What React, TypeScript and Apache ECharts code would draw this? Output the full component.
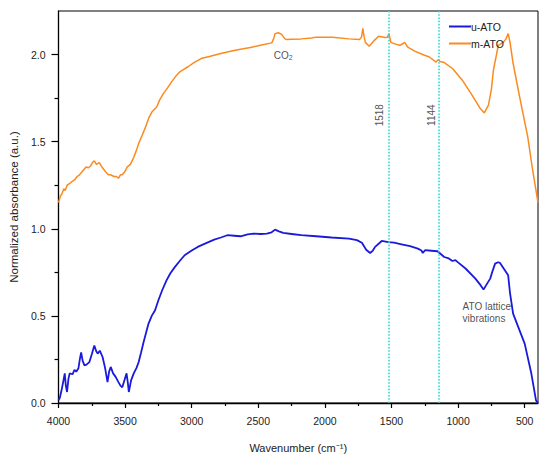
import React, { useEffect, useRef } from "react";
import * as echarts from "echarts";

const xTickValues = [4000, 3500, 3000, 2500, 2000, 1500, 1000, 500];
const xMinorTicks = [3750, 3250, 2750, 2250, 1750, 1250, 750];
const yTickValues = [0, 0.5, 1.0, 1.5, 2.0];
const yMinorTicks = [0.25, 0.75, 1.25, 1.75];

const uATO: [number, number][] = [
  [4000, 0.015], [3990, 0.03], [3978, 0.07], [3965, 0.12], [3953, 0.17], [3945, 0.1], [3936, 0.063],
  [3925, 0.14], [3916, 0.17], [3895, 0.165], [3880, 0.19], [3867, 0.18], [3850, 0.2], [3840, 0.25],
  [3830, 0.29], [3818, 0.24], [3805, 0.216], [3790, 0.22], [3768, 0.235], [3750, 0.28], [3731, 0.33],
  [3718, 0.3], [3706, 0.283], [3690, 0.3], [3669, 0.264], [3650, 0.2], [3632, 0.12], [3620, 0.18],
  [3608, 0.207], [3590, 0.17], [3571, 0.15], [3550, 0.12], [3535, 0.1], [3521, 0.09], [3505, 0.13],
  [3489, 0.17], [3480, 0.12], [3472, 0.063], [3455, 0.13], [3435, 0.17], [3415, 0.2], [3398, 0.235],
  [3380, 0.29], [3361, 0.35], [3340, 0.41], [3324, 0.456], [3300, 0.5], [3275, 0.532], [3250, 0.59],
  [3220, 0.65], [3189, 0.704], [3160, 0.745], [3127, 0.78], [3090, 0.815], [3053, 0.848], [3000, 0.875],
  [2955, 0.896], [2900, 0.915], [2831, 0.938], [2780, 0.95], [2733, 0.963], [2680, 0.96], [2633, 0.957],
  [2580, 0.968], [2535, 0.972], [2480, 0.97], [2436, 0.972], [2400, 0.98], [2374, 0.995], [2345, 0.985],
  [2313, 0.976], [2250, 0.97], [2177, 0.963], [2066, 0.957], [1950, 0.95], [1819, 0.944], [1760, 0.935],
  [1722, 0.92], [1690, 0.88], [1660, 0.861], [1640, 0.875], [1623, 0.896], [1573, 0.93], [1524, 0.924],
  [1480, 0.92], [1425, 0.911], [1360, 0.9], [1302, 0.886], [1275, 0.875], [1265, 0.861], [1248, 0.877],
  [1200, 0.874], [1154, 0.871], [1130, 0.855], [1104, 0.838], [1070, 0.83], [1042, 0.815], [1020, 0.82],
  [1005, 0.81], [944, 0.772], [870, 0.714], [830, 0.675], [809, 0.651], [790, 0.675], [759, 0.714],
  [740, 0.76], [722, 0.8], [700, 0.808], [685, 0.804], [660, 0.775], [624, 0.733], [610, 0.63],
  [587, 0.513], [545, 0.43], [500, 0.341], [450, 0.169], [415, 0.015], [400, 0.0],
];

const mATO: [number, number][] = [
  [4000, 1.15], [3985, 1.19], [3975, 1.2], [3960, 1.23], [3950, 1.22], [3935, 1.25], [3916, 1.26],
  [3900, 1.27], [3880, 1.28], [3860, 1.3], [3842, 1.31], [3820, 1.33], [3793, 1.355], [3775, 1.35],
  [3760, 1.36], [3745, 1.38], [3731, 1.39], [3715, 1.37], [3694, 1.38], [3670, 1.35], [3645, 1.326],
  [3625, 1.31], [3610, 1.31], [3583, 1.3], [3565, 1.3], [3550, 1.29], [3535, 1.31], [3521, 1.31],
  [3500, 1.33], [3484, 1.355], [3460, 1.37], [3435, 1.41], [3415, 1.45], [3398, 1.49], [3370, 1.54],
  [3346, 1.585], [3320, 1.64], [3299, 1.67], [3262, 1.7], [3240, 1.74], [3213, 1.776], [3180, 1.81],
  [3151, 1.843], [3120, 1.875], [3090, 1.9], [3060, 1.915], [3028, 1.93], [2980, 1.955], [2929, 1.977],
  [2860, 1.99], [2781, 2.006], [2700, 2.02], [2633, 2.03], [2560, 2.04], [2485, 2.053], [2399, 2.067],
  [2385, 2.09], [2374, 2.12], [2350, 2.125], [2325, 2.116], [2300, 2.09], [2288, 2.086], [2250, 2.088],
  [2177, 2.09], [2100, 2.095], [2066, 2.1], [1943, 2.1], [1819, 2.09], [1740, 2.086], [1725, 2.1],
  [1715, 2.15], [1705, 2.1], [1696, 2.07], [1667, 2.048], [1630, 2.08], [1597, 2.105], [1548, 2.098],
  [1530, 2.1], [1519, 2.12], [1505, 2.07], [1470, 2.06], [1437, 2.053], [1410, 2.065], [1400, 2.07],
  [1380, 2.044], [1326, 2.02], [1252, 1.996], [1215, 1.986], [1166, 1.957], [1149, 1.97], [1135, 1.96],
  [1104, 1.954], [1042, 1.92], [968, 1.853], [894, 1.766], [833, 1.69], [803, 1.665], [772, 1.71],
  [750, 1.8], [735, 1.91], [698, 2.053], [661, 2.07], [640, 2.09], [624, 2.12], [610, 2.07],
  [587, 1.95], [538, 1.757], [477, 1.527], [440, 1.336], [400, 1.15],
];

const markerLines = [1518, 1144];
const markerLabels: [number, number, string][] = [
  [1587, 1.652, "1518"],
  [1203, 1.652, "1144"],
];
const co2Label: [number, number, string][] = [[2313, 1.995, "CO{sub|2}"]];
const latticeLabel: [number, number, string][] = [[966, 0.52, "ATO lattice\nvibrations"]];

const FONT = "'Liberation Sans', Arial, sans-serif";
const TXT = "#222";

export default function App() {
  const ref = useRef<HTMLDivElement>(null);
  useEffect(() => {
    document.body.style.margin = "0";
    if (!ref.current) return;
    const chart = echarts.init(ref.current, undefined, { renderer: "svg" });
    const baseX = {
      type: "value" as const,
      min: 400,
      max: 4000,
      inverse: true,
      splitLine: { show: false },
    };
    chart.setOption({
      animation: false,
      textStyle: { fontFamily: FONT },
      grid: {
        left: 52,
        top: 11,
        right: 12,
        bottom: 56,
        show: true,
        borderColor: "#000",
        borderWidth: 1,
        backgroundColor: "transparent",
      },
      legend: {
        orient: "vertical",
        left: 444,
        top: 16,
        icon: "rect",
        itemWidth: 22,
        itemHeight: 2,
        itemGap: 6,
        textStyle: { fontSize: 10.5, color: TXT, fontFamily: FONT, padding: [0, 0, 0, -5] },
        data: ["u-ATO", "m-ATO"],
      },
      xAxis: [
        {
          ...baseX,
          name: "Wavenumber (cm\u207B\u00B9)",
          nameLocation: "middle",
          nameGap: 39,
          nameTextStyle: { fontSize: 11, color: TXT, fontFamily: FONT },
          axisLine: { show: true, onZero: false, lineStyle: { color: "#000", width: 1.3 } },
          axisTick: { show: true, length: 5, customValues: xTickValues, lineStyle: { color: "#000", width: 1.2 } },
          axisLabel: {
            show: true,
            customValues: xTickValues,
            margin: 12,
            fontSize: 10.5,
            color: TXT,
            fontFamily: FONT,
            formatter: (v: number) => String(v),
          },
        },
        {
          ...baseX,
          position: "bottom",
          axisLine: { show: false },
          axisTick: { show: true, length: 3, customValues: xMinorTicks, lineStyle: { color: "#000", width: 1.2 } },
          axisLabel: { show: false },
        },
      ],
      yAxis: [
        {
          type: "value",
          min: 0,
          max: 2.25,
          name: "Normalized absorbance (a.u.)",
          nameLocation: "middle",
          nameGap: 33,
          nameTextStyle: { fontSize: 11.5, color: TXT, fontFamily: FONT },
          splitLine: { show: false },
          axisLine: { show: true, onZero: false, lineStyle: { color: "#000", width: 1.3 } },
          axisTick: { show: true, length: 7, customValues: yTickValues, lineStyle: { color: "#000", width: 1.2 } },
          axisLabel: {
            show: true,
            customValues: yTickValues,
            margin: 13,
            fontSize: 10.5,
            color: TXT,
            fontFamily: FONT,
            formatter: (v: number) => v.toFixed(1),
          },
        },
        {
          type: "value",
          min: 0,
          max: 2.25,
          position: "left",
          splitLine: { show: false },
          axisLine: { show: false },
          axisTick: { show: true, length: 4, customValues: yMinorTicks, lineStyle: { color: "#000", width: 1.2 } },
          axisLabel: { show: false },
        },
      ],
      series: [
        {
          name: "u-ATO",
          type: "line",
          data: uATO,
          symbol: "none",
          color: "#1a1adc",
          lineStyle: { color: "#1a1adc", width: 1.8 },
          markLine: {
            silent: true,
            symbol: ["none", "none"],
            label: { show: false },
            lineStyle: { color: "#33d9d9", type: "dotted", width: 1.6 },
            data: markerLines.map((v) => ({ xAxis: v })),
          },
        },
        {
          name: "m-ATO",
          type: "line",
          data: mATO,
          symbol: "none",
          color: "#fb8a1f",
          lineStyle: { color: "#fb8a1f", width: 1.5 },
        },
        {
          type: "scatter",
          data: markerLabels,
          symbolSize: 0,
          silent: true,
          label: {
            show: true,
            position: "inside",
            rotate: 90,
            formatter: (p: any) => p.value[2],
            fontSize: 10,
            color: TXT,
            fontFamily: FONT,
          },
        },
        {
          type: "scatter",
          data: co2Label,
          symbolSize: 0,
          silent: true,
          label: {
            show: true,
            position: "inside",
            formatter: (p: any) => p.value[2],
            fontSize: 10,
            color: TXT,
            fontFamily: FONT,
            rich: { sub: { fontSize: 7, padding: [5, 0, 0, 0], color: TXT, fontFamily: FONT } },
          },
        },
        {
          type: "scatter",
          data: latticeLabel,
          symbolSize: 0,
          silent: true,
          label: {
            show: true,
            position: "right",
            distance: 0,
            align: "left",
            lineHeight: 12,
            formatter: (p: any) => p.value[2],
            fontSize: 10,
            color: TXT,
            fontFamily: FONT,
          },
        },
      ],
    });
    return () => chart.dispose();
  }, []);
  return <div ref={ref} style={{ width: 550, height: 459 }} />;
}
